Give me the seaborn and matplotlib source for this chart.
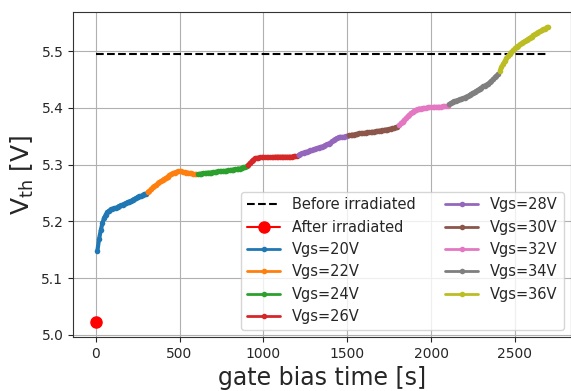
import numpy as np
import matplotlib
matplotlib.use("Agg")
import matplotlib.pyplot as plt
import seaborn as sns

# threshold voltage before / after irradiation
vth_before = 5.495
vth_after = 5.022
t_end = 2700

gate_voltages = ["20", "22", "24", "26", "28", "30", "32", "34", "36"]

# each gate bias step lasts 300 s, sampled every 10 s
step_times = [np.arange(10, 301, 10) + 300 * i for i in range(len(gate_voltages))]

vth_20 = [5.148, 5.169, 5.184, 5.197, 5.206, 5.212, 5.216, 5.219, 5.221, 5.222,
          5.223, 5.224, 5.225, 5.227, 5.228, 5.229, 5.231, 5.232, 5.234, 5.235,
          5.236, 5.238, 5.239, 5.241, 5.243, 5.244, 5.245, 5.246, 5.248, 5.249]
vth_22 = [5.252, 5.254, 5.257, 5.260, 5.262, 5.264, 5.267, 5.269, 5.271, 5.273,
          5.275, 5.277, 5.279, 5.281, 5.283, 5.285, 5.286, 5.287, 5.288, 5.288,
          5.288, 5.287, 5.287, 5.286, 5.286, 5.285, 5.285, 5.284, 5.283, 5.283]
vth_24 = [5.283, 5.284, 5.284, 5.285, 5.285, 5.285, 5.286, 5.286, 5.286, 5.287,
          5.287, 5.287, 5.288, 5.288, 5.288, 5.289, 5.289, 5.289, 5.290, 5.290,
          5.291, 5.291, 5.292, 5.292, 5.293, 5.293, 5.294, 5.295, 5.296, 5.297]
vth_26 = [5.300, 5.303, 5.306, 5.309, 5.311, 5.312, 5.312, 5.313, 5.313, 5.313,
          5.313, 5.313, 5.313, 5.313, 5.313, 5.313, 5.314, 5.314, 5.314, 5.314,
          5.314, 5.314, 5.314, 5.314, 5.314, 5.314, 5.314, 5.315, 5.315, 5.315]
vth_28 = [5.317, 5.319, 5.320, 5.321, 5.322, 5.323, 5.324, 5.325, 5.326, 5.327,
          5.328, 5.329, 5.330, 5.331, 5.332, 5.333, 5.334, 5.336, 5.337, 5.339,
          5.341, 5.343, 5.345, 5.347, 5.348, 5.349, 5.349, 5.349, 5.350, 5.350]
vth_30 = [5.352, 5.352, 5.353, 5.353, 5.354, 5.354, 5.355, 5.355, 5.355, 5.356,
          5.356, 5.357, 5.357, 5.357, 5.358, 5.358, 5.359, 5.359, 5.360, 5.360,
          5.361, 5.361, 5.362, 5.362, 5.363, 5.363, 5.364, 5.365, 5.366, 5.367]
vth_32 = [5.370, 5.373, 5.376, 5.379, 5.382, 5.385, 5.388, 5.391, 5.393, 5.395,
          5.397, 5.398, 5.399, 5.399, 5.400, 5.400, 5.400, 5.401, 5.401, 5.401,
          5.401, 5.402, 5.402, 5.402, 5.402, 5.402, 5.403, 5.403, 5.403, 5.404]
vth_34 = [5.407, 5.409, 5.411, 5.412, 5.413, 5.414, 5.415, 5.416, 5.417, 5.418,
          5.420, 5.421, 5.423, 5.425, 5.427, 5.428, 5.430, 5.432, 5.434, 5.436,
          5.438, 5.439, 5.441, 5.443, 5.445, 5.448, 5.451, 5.454, 5.457, 5.460]
vth_36 = [5.466, 5.472, 5.478, 5.483, 5.488, 5.492, 5.496, 5.499, 5.502, 5.505,
          5.508, 5.510, 5.512, 5.514, 5.516, 5.518, 5.520, 5.522, 5.524, 5.526,
          5.528, 5.530, 5.532, 5.534, 5.535, 5.537, 5.539, 5.540, 5.542, 5.543]

vth_steps = [vth_20, vth_22, vth_24, vth_26, vth_28, vth_30, vth_32, vth_34, vth_36]

sns.set_style("ticks", {"axes.grid": True})
plt.rcParams["font.family"] = ["DejaVu Sans"]

fig = plt.figure(figsize=(5.71, 3.91), dpi=100)
ax = fig.add_axes([0.128, 0.138, 0.872, 0.831])

ax.plot([0, t_end], [vth_before, vth_before], "k--", label="Before irradiated")
ax.plot([0], [vth_after], "-o", color="red", markersize=8, label="After irradiated")

palette = sns.color_palette("tab10")
for i, (vg, t, v) in enumerate(zip(gate_voltages, step_times, vth_steps)):
    sns.lineplot(x=t, y=v, ax=ax, color=palette[i], marker=".", markersize=8,
                 markeredgewidth=0, linewidth=3, label=f"Vgs={vg}V")

ax.set_xlabel("gate bias time [s]", fontsize=17)
ax.set_ylabel(r"V$_{\rm th}$ [V]", fontsize=18)
ax.tick_params(labelsize=10)
ax.grid(True, color="#b0b0b0", linewidth=0.8)
for s in ax.spines.values():
    s.set_color("#333333")
leg = ax.legend(ncol=2, loc="lower right", fontsize=10.5, handlelength=2.3)
for h in leg.legend_handles[2:]:
    h.set_linewidth(2)

fig.savefig("out.png", dpi=100)
